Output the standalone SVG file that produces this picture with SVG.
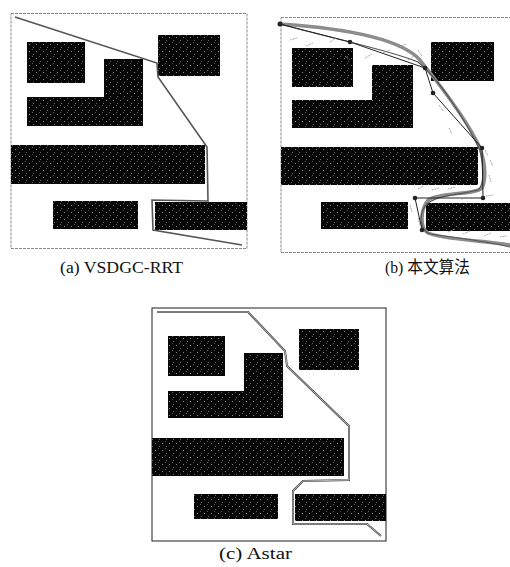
<svg xmlns="http://www.w3.org/2000/svg" width="510" height="567" viewBox="0 0 510 567">
<defs>
<pattern id="speck" width="7" height="7" patternUnits="userSpaceOnUse">
<rect width="7" height="7" fill="#060606"/>
<rect x="1" y="2" width="1" height="1" fill="#8a8a8a"/>
<rect x="5" y="5" width="1" height="1" fill="#6a6a6a"/>
<rect x="4" y="0" width="1" height="1" fill="#555"/>
</pattern>
<style>
.obs{fill:url(#speck)}
.bdash{fill:none;stroke:#8a8a8a;stroke-width:1;stroke-dasharray:3 1}
.bsolid{fill:none;stroke:#444;stroke-width:1.2}
.patha{fill:none;stroke:#555;stroke-width:1.6;stroke-linejoin:miter}
.pathc{fill:none;stroke:#444;stroke-width:2}
.pathc2{fill:none;stroke:#fff;stroke-width:0.6}
.thick{fill:none;stroke:#8c8c8c;stroke-width:3.5;stroke-linecap:round}
.thin{fill:none;stroke:#555;stroke-width:1.2}
.poly{fill:none;stroke:#222;stroke-width:1}
.node{fill:#222}
.mark{stroke:#9a9a9a;stroke-width:1;stroke-dasharray:1 0.6}
.lbl{font-family:"Liberation Serif","Noto Sans CJK SC",serif;font-size:17px;fill:#111}
</style>
</defs>
<rect width="510" height="567" fill="#fff"/>

<g id="panel-a">
<rect class="bdash" x="11" y="13.5" width="236" height="235"/>
<rect class="obs" x="27" y="42" width="58" height="41"/>
<path class="obs" d="M104,59 H143 V126 H27 V97 H104 Z"/>
<rect class="obs" x="158" y="35" width="62" height="41"/>
<rect class="obs" x="11" y="145" width="194" height="39"/>
<rect class="obs" x="53" y="201" width="85" height="28"/>
<rect class="obs" x="155" y="202" width="92" height="28"/>
<polyline class="patha" points="15,17 157,63 158,77 207,147 208,201 152,200 153,230 242,245"/>
</g>

<g id="panel-b">
<rect class="bdash" x="281" y="17.5" width="232" height="235"/>
<rect class="obs" x="292" y="48" width="61" height="39"/>
<path class="obs" d="M372,65 H413 V128 H292 V100 H372 Z"/>
<rect class="obs" x="431" y="42" width="63" height="39"/>
<rect class="obs" x="281" y="147" width="197" height="38"/>
<rect class="obs" x="321" y="202" width="87" height="27"/>
<rect class="obs" x="426" y="203" width="84" height="28"/>
</g>

<g id="connectors">
<path class="thick" d="M280,24 C340,28 400,38 420,60 C440,85 470,125 480,148 C486,165 486,180 482,188 C475,195 440,192 428,200 C420,210 420,228 428,233 C445,240 480,240 510,245"/>
<path class="thin" d="M280,24 C330,38 390,50 418,62 C440,80 465,120 480,150 C484,170 484,185 478,190 C460,195 435,195 426,205 C418,215 420,230 430,234 C460,238 490,242 510,247"/>
<polyline class="poly" points="280,24 350,42 425,68 433,93 482,148 483,198 415,198 422,230"/>
<g class="node">
<circle cx="280" cy="24" r="2.5"/>
<circle cx="350" cy="42" r="2.3"/>
<circle cx="425" cy="68" r="2.3"/>
<circle cx="433" cy="93" r="2.3"/>
<circle cx="482" cy="148" r="2.3"/>
<circle cx="483" cy="198" r="2.3"/>
<circle cx="415" cy="198" r="2.3"/>
<circle cx="422" cy="230" r="2.3"/>
</g>
<g class="mark">
<line x1="290" y1="40" x2="297" y2="38"/>
<line x1="306" y1="46" x2="313" y2="43"/>
<line x1="330" y1="42" x2="336" y2="38"/>
<line x1="345" y1="56" x2="350" y2="60"/>
<line x1="365" y1="58" x2="372" y2="54"/>
<line x1="383" y1="53" x2="390" y2="50"/>
<line x1="398" y1="48" x2="406" y2="44"/>
<line x1="408" y1="60" x2="414" y2="56"/>
<line x1="418" y1="50" x2="422" y2="56"/>
<line x1="439" y1="105" x2="443" y2="111"/>
<line x1="449" y1="128" x2="452" y2="134"/>
<line x1="485" y1="150" x2="488" y2="156"/>
<line x1="490" y1="160" x2="493" y2="166"/>
<line x1="489" y1="175" x2="491" y2="182"/>
<line x1="432" y1="190" x2="439" y2="188"/>
<line x1="448" y1="189" x2="455" y2="187"/>
<line x1="456" y1="198" x2="463" y2="199"/>
<line x1="418" y1="189" x2="424" y2="186"/>
<line x1="410" y1="205" x2="412" y2="212"/>
<line x1="486" y1="196" x2="493" y2="195"/>
<line x1="448" y1="232" x2="455" y2="229"/>
<line x1="463" y1="234" x2="470" y2="231"/>
<line x1="484" y1="236" x2="491" y2="233"/>
<line x1="500" y1="237" x2="507" y2="236"/>
<line x1="418" y1="218" x2="420" y2="225"/>
</g>
</g>

<g id="panel-c">
<rect class="bsolid" x="152" y="308" width="234" height="233"/>
<rect class="obs" x="168" y="336" width="57" height="40"/>
<path class="obs" d="M244,353 H283 V418 H168 V391 H244 Z"/>
<rect class="obs" x="299" y="329" width="60" height="41"/>
<rect class="obs" x="152" y="438" width="192" height="38"/>
<rect class="obs" x="194" y="494" width="84" height="25"/>
<rect class="obs" x="295" y="494" width="91" height="27"/>
<polyline class="pathc" points="157,312 248,312 285,351 287,366 349,426 349,480 303,481 293,491 293,524 367,524 381,536"/>
<polyline class="pathc2" points="157,312 248,312 285,351 287,366 349,426 349,480 303,481 293,491 293,524 367,524 381,536"/>
</g>

<g id="labels">
<text class="lbl" x="60" y="273" textLength="123" lengthAdjust="spacingAndGlyphs">(a) VSDGC-RRT</text>
<text class="lbl" x="385" y="273" textLength="85" lengthAdjust="spacingAndGlyphs">(b) 本文算法</text>
<text class="lbl" x="219" y="559" textLength="73" lengthAdjust="spacingAndGlyphs">(c) Astar</text>
</g>
</svg>
